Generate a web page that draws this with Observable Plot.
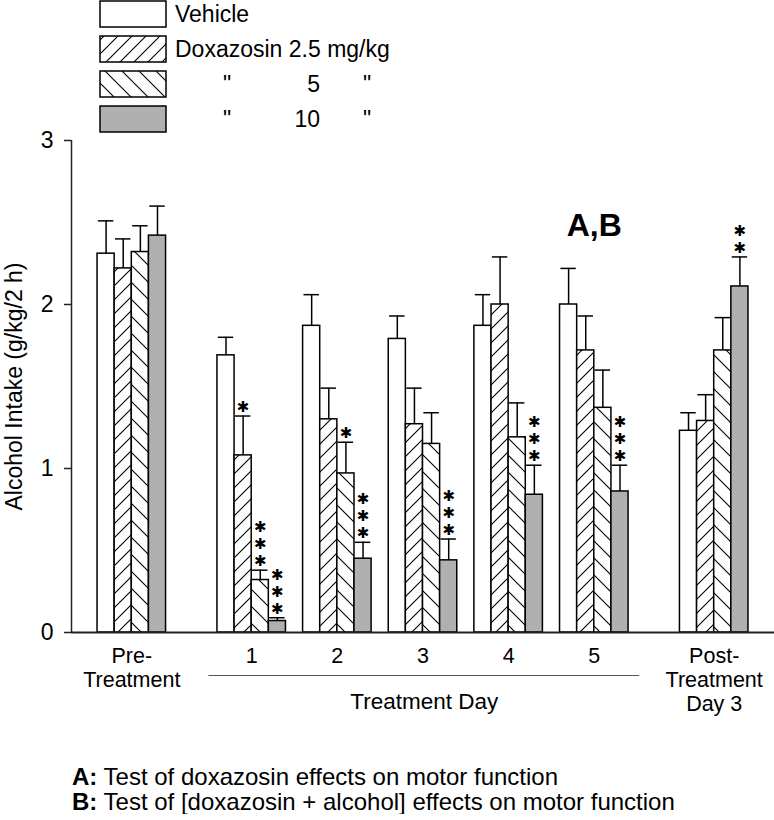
<!DOCTYPE html>
<html><head><meta charset="utf-8">
<script src="https://cdn.jsdelivr.net/npm/d3@7"></script>
<script src="https://cdn.jsdelivr.net/npm/@observablehq/plot@0.6"></script>
<style>
body{margin:0;background:#fff;font-family:"Liberation Sans",Arial,sans-serif;color:#000}
#legend{display:block}
#chart svg{display:block}
#caption{margin:0;padding:10px 0 0 72px;font-size:24px;line-height:25px;color:#000;white-space:nowrap}
</style></head><body>
<svg id="legend" width="774" height="134"></svg>
<div id="chart"></div>
<div id="caption"></div>
<script>
// ---- data ----
const groups = ["Pre-\nTreatment", "1", "2", "3", "4", "5", "Post-\nTreatment\nDay 3"];
const treatmentDays = ["1", "2", "3", "4", "5"];
const seriesNames = ["Vehicle", "Doxazosin 2.5 mg/kg", "Doxazosin 5 mg/kg", "Doxazosin 10 mg/kg"];
const doseLabels = ["", "2.5", "5", "10"];
const vehicle = [2.31, 1.69, 1.87, 1.79, 1.87, 2.00, 1.23];
const dox25   = [2.22, 1.08, 1.30, 1.27, 2.00, 1.72, 1.29];
const dox5    = [2.32, 0.32, 0.97, 1.15, 1.19, 1.37, 1.72];
const dox10   = [2.42, 0.07, 0.45, 0.44, 0.84, 0.86, 2.11];
const semVehicle = [0.20, 0.11, 0.19, 0.14, 0.19, 0.22, 0.11];
const semDox25   = [0.18, 0.24, 0.19, 0.22, 0.29, 0.21, 0.16];
const semDox5    = [0.16, 0.06, 0.19, 0.19, 0.21, 0.23, 0.20];
const semDox10   = [0.18, 0.02, 0.10, 0.13, 0.18, 0.16, 0.18];
const starsVehicle = [0, 0, 0, 0, 0, 0, 0];
const starsDox25   = [0, 1, 0, 0, 0, 0, 0];
const starsDox5    = [0, 3, 1, 0, 0, 0, 0];
const starsDox10   = [0, 3, 3, 3, 3, 3, 2];
const starGlyph = "\u2731";
const yTicks = [0, 1, 2, 3];
const yLabel = "Alcohol Intake (g/kg/2 h)";
const treatmentLabel = "Treatment Day";
const annotations = [{group: "5", text: "A,B", value: 2.415}];
const captionKeys = ["A:", "B:"];
const captionTexts = ["Test of doxazosin effects on motor function", "Test of [doxazosin + alcohol] effects on motor function"];

const values = [vehicle, dox25, dox5, dox10];
const sems = [semVehicle, semDox25, semDox5, semDox10];
const stars = [starsVehicle, starsDox25, starsDox5, starsDox10];
const fills = ["white", "url(#hatchF)", "url(#hatchB)", "#b0b0b0"];

// ---- patterns + legend ----
const leg = d3.select("#legend");
const defs = leg.append("defs");
const pF = defs.append("pattern").attr("id", "hatchF").attr("patternUnits", "userSpaceOnUse").attr("width", 14).attr("height", 14);
pF.append("rect").attr("width", 14).attr("height", 14).attr("fill", "white");
pF.append("path").attr("d", "M0,14L14,0M-4,4L4,-4M10,18L18,10").attr("stroke", "black").attr("stroke-width", 1.1);
const pB = defs.append("pattern").attr("id", "hatchB").attr("patternUnits", "userSpaceOnUse").attr("width", 17).attr("height", 17);
pB.append("rect").attr("width", 17).attr("height", 17).attr("fill", "white");
pB.append("path").attr("d", "M0,0L17,17M13,-4L21,4M-4,13L4,21").attr("stroke", "black").attr("stroke-width", 1.1);

seriesNames.forEach((name, i) => {
  const y0 = 1 + 35 * i;
  leg.append("rect").attr("x", 100).attr("y", y0).attr("width", 66).attr("height", 26)
    .attr("fill", fills[i]).attr("stroke", "black").attr("stroke-width", 1.5);
  const t = (x, s, anchor) => leg.append("text").attr("x", x).attr("y", y0 + 21).attr("font-size", 23)
    .attr("text-anchor", anchor || "start").text(s);
  if (i < 2) t(175, name);
  else { t(223, '"'); t(320, doseLabels[i], "end"); t(363, '"'); }
});

// ---- chart data table ----
const unitStart = i => 5 * i + (i >= 1 ? 2 : 0) + (i >= 6 ? 2 : 0);
const data = [];
groups.forEach((g, i) => values.forEach((arr, s) => data.push({
  group: g, gi: i, s, value: arr[i], sem: sems[s][i], stars: stars[s][i],
  x1: unitStart(i) + s, x2: unitStart(i) + s + 1, xc: unitStart(i) + s + 0.5
})));
const groupData = groups.map((g, i) => ({label: g, xc: unitStart(i) + 2}));
const dayIdx = treatmentDays.map(d => groups.indexOf(d));
const lineX1 = unitStart(dayIdx[0]) - 0.5;
const lineX2 = unitStart(dayIdx[dayIdx.length - 1]) + 4 + 0.65;
const xDomain = [-1.52, 39.52];
const labelSize = 21.5, labelPitch = 24;

const marks = [];
values.forEach((_, s) => marks.push(Plot.rect(data.filter(d => d.s === s), {
  x1: "x1", x2: "x2", y1: d => 0, y2: "value", fill: fills[s], stroke: "black", strokeWidth: 1.5
})));
marks.push(
  Plot.ruleX(data, {x: "xc", y1: "value", y2: d => d.value + d.sem, stroke: "black", strokeWidth: 1.5}),
  Plot.ruleY(data, {y: d => d.value + d.sem, x1: d => d.xc - 0.45, x2: d => d.xc + 0.45, stroke: "black", strokeWidth: 1.5}),
  Plot.text(data.filter(d => d.stars > 0), {
    x: "xc", y: d => d.value + d.sem, text: d => Array(d.stars).fill(starGlyph).join("\n"),
    lineAnchor: "bottom", lineHeight: 1.13, fontSize: 15, fontWeight: "bold", fontFamily: "DejaVu Sans", dy: -4, fill: "black"
  }),
  Plot.ruleY([0], {stroke: "#222", strokeWidth: 2}),
  Plot.ruleX([xDomain[0]], {y1: d => 0, y2: d => 3, stroke: "#222", strokeWidth: 1.5}),
  Plot.axisY({ticks: yTicks, tickSize: 7, tickPadding: 11, fontSize: 23, label: null, tickFormat: d => d, stroke: "#222", strokeWidth: 1.5}),
  Plot.text([yLabel], {frameAnchor: "left", rotate: -90, dx: -66, textAnchor: "middle", lineAnchor: "top", fontSize: 23, text: d => d, fill: "black"}),
  Plot.text(groupData, {x: "xc", y: d => 0, text: "label", lineAnchor: "top", dy: 13, fontSize: labelSize, lineHeight: labelPitch / labelSize, fill: "black"}),
  Plot.ruleY([0], {x1: d => lineX1, x2: d => lineX2, dy: 43, stroke: "#555", strokeWidth: 1}),
  Plot.text([treatmentLabel], {x: d => (lineX1 + lineX2) / 2, y: d => 0, text: d => d, lineAnchor: "top", dy: 13 + 2 * labelPitch, fontSize: 22.5, fill: "black"}),
  Plot.text(annotations, {x: d => unitStart(groups.indexOf(d.group)) + 2, y: "value", text: "text", lineAnchor: "bottom", fontSize: 32, fontWeight: "bold", fill: "black"})
);

const chart = Plot.plot({
  width: 774, height: 620,
  marginLeft: 71, marginRight: 0, marginTop: 6, marginBottom: 122,
  style: {fontFamily: '"Liberation Sans", Arial, sans-serif', background: "white", color: "black", overflow: "visible"},
  x: {type: "linear", domain: xDomain, axis: null},
  y: {domain: [0, 3]},
  marks
});
document.getElementById("chart").appendChild(chart);

document.getElementById("caption").innerHTML = captionKeys.map((k, i) => `<div><b>${k}</b> ${captionTexts[i]}</div>`).join("");
</script>
</body></html>
